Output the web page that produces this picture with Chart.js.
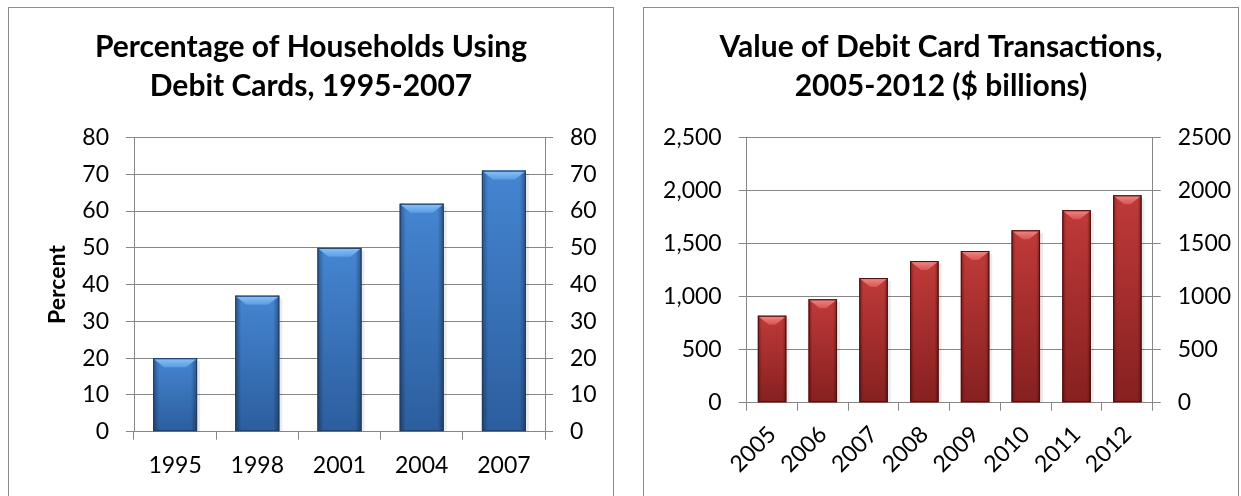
<!DOCTYPE html>
<html>
<head>
<meta charset="utf-8">
<script src="https://cdn.jsdelivr.net/npm/chart.js@4.4.1/dist/chart.umd.min.js"></script>
<style>
    body { margin: 0; background: #fff; width: 1241px; height: 496px; overflow: hidden; position: relative; }
    .panel { position: absolute; top: 7px; height: 500px; border: 1px solid #8c8c8c; background: #fff; }
    #panelLeft { left: 8px; width: 604px; }
    #panelRight { left: 643px; width: 594px; }
    .panel canvas { position: absolute; left: 0; top: 0; }
</style>
</head>
<body>
<div class="panel" id="panelLeft"><canvas id="householdChart" width="604" height="488"></canvas></div>
<div class="panel" id="panelRight"><canvas id="debitChart" width="594" height="488"></canvas></div>
<script>
// Households using debit cards (percent)
const householdYears = ['1995', '1998', '2001', '2004', '2007'];
const householdPct = [20, 37, 50, 62, 71];
const pctMax = 80;
const pctStep = 10;

// Value of debit card transactions ($ billions)
const debitYears = ['2005', '2006', '2007', '2008', '2009', '2010', '2011', '2012'];
const debitValue = [820, 975, 1175, 1335, 1430, 1625, 1815, 1955];
const valueMax = 2500;
const valueStep = 500;

const gray = '#868686';
const font = 'Lato';

// Excel-like shading: gradient body with a lighter bevel on top
const bevelBars = {
    id: 'bevelBars',
    afterDatasetsDraw(chart) {
        const c = chart.options.plugins.bevelBars;
        const ctx = chart.ctx;
        chart.getDatasetMeta(0).data.forEach(bar => {
            const { x, y, base, width } = bar.getProps(['x', 'y', 'base', 'width'], true);
            const x0 = x - width / 2, x1 = x + width / 2, h = base - y;
            ctx.save();
            // soft shadow on the right
            ctx.fillStyle = 'rgba(0,0,0,0.08)';
            ctx.fillRect(x1, y + 3, 3, h - 3);

            let g = ctx.createLinearGradient(0, y, 0, base);
            g.addColorStop(0, c.top);
            g.addColorStop(1, c.bottom);
            ctx.fillStyle = g;
            ctx.fillRect(x0, y, width, h);

            g = ctx.createLinearGradient(x0, 0, x1, 0);
            g.addColorStop(0, 'rgba(0,0,0,0.35)');
            g.addColorStop(0.14, 'rgba(0,0,0,0)');
            g.addColorStop(0.86, 'rgba(0,0,0,0)');
            g.addColorStop(1, 'rgba(0,0,0,0.35)');
            ctx.fillStyle = g;
            ctx.fillRect(x0, y, width, h);

            const b = 9;
            const inset = Math.min(11, width / 2 - 2);
            ctx.beginPath();
            ctx.moveTo(x0 + 1, y + 1);
            ctx.lineTo(x1 - 1, y + 1);
            ctx.lineTo(x1 - inset, y + b);
            ctx.lineTo(x0 + inset, y + b);
            ctx.closePath();
            g = ctx.createLinearGradient(0, y, 0, y + b);
            g.addColorStop(0, c.bevelTop);
            g.addColorStop(1, c.bevelBottom);
            ctx.fillStyle = g;
            ctx.fill();

            ctx.strokeStyle = c.edge;
            ctx.lineWidth = 1;
            ctx.strokeRect(x0 + 0.5, y + 0.5, width - 1, h - 1);
            ctx.restore();
        });
    }
};

function makeChart(id, labels, values, opts) {
    const tickFont = { family: font, size: 23 };
    return new Chart(document.getElementById(id), {
        type: 'bar',
        data: {
            labels: labels,
            datasets: [{
                data: values,
                backgroundColor: opts.colors.top,
                borderWidth: 0,
                barPercentage: opts.barPct,
                categoryPercentage: 1
            }]
        },
        options: {
            responsive: false,
            animation: false,
            layout: { padding: 0 },
            plugins: {
                legend: { display: false },
                tooltip: { enabled: false },
                title: {
                    display: true,
                    text: opts.title,
                    color: '#000',
                    font: { family: font, size: 30, weight: 'bold', lineHeight: '39px' },
                    padding: { top: 20, bottom: 31.5 }
                },
                bevelBars: opts.colors
            },
            scales: {
                x: {
                    grid: { drawOnChartArea: false, tickLength: 8, color: gray, offset: true },
                    border: { color: gray },
                    ticks: { color: '#000', font: tickFont, padding: opts.xPad, minRotation: opts.rot, maxRotation: opts.rot, autoSkip: false },
                    afterFit: s => { s.height = opts.xHeight; }
                },
                y: {
                    position: 'left',
                    min: 0, max: opts.max,
                    grid: { color: gray, tickLength: 8 },
                    border: { color: gray },
                    ticks: { color: '#000', font: tickFont, padding: 17, stepSize: opts.step, callback: opts.leftFmt },
                    title: opts.yTitle ? {
                        display: true, text: opts.yTitle, color: '#000',
                        font: { family: font, size: 23, weight: 'bold' }, padding: { top: 35, bottom: 0 }
                    } : { display: false },
                    afterFit: s => { s.width = opts.leftWidth; }
                },
                y2: {
                    position: 'right',
                    min: 0, max: opts.max,
                    grid: { drawOnChartArea: false, color: gray, tickLength: 8 },
                    border: { color: gray },
                    ticks: { color: '#000', font: tickFont, padding: 17, stepSize: opts.step, callback: v => String(v) },
                    afterFit: s => { s.width = opts.rightWidth; }
                }
            }
        },
        plugins: [bevelBars]
    });
}

makeChart('householdChart', householdYears, householdPct, {
    title: ['Percentage of Households Using', 'Debit Cards, 1995-2007'],
    yTitle: 'Percent',
    max: pctMax, step: pctStep,
    leftFmt: v => String(v),
    barPct: 0.535,
    rot: 0, xPad: 12,
    leftWidth: 125, rightWidth: 68, xHeight: 64.3,
    colors: { top: '#4585d2', bottom: '#2c5e9e', bevelTop: '#8cc4f6', bevelBottom: '#5d9ce2', edge: '#1e3d66' }
});

makeChart('debitChart', debitYears, debitValue, {
    title: ['Value of Debit Card Transactions,', '2005-2012 ($ billions)'],
    yTitle: null,
    max: valueMax, step: valueStep,
    leftFmt: v => v.toLocaleString('en-US'),
    barPct: 0.56,
    rot: 45, xPad: 10,
    leftWidth: 102.7, rightWidth: 85.3, xHeight: 93.3,
    colors: { top: '#bf3a38', bottom: '#862020', bevelTop: '#f08a88', bevelBottom: '#d65452', edge: '#4e1010' }
});
</script>
</body>
</html>
